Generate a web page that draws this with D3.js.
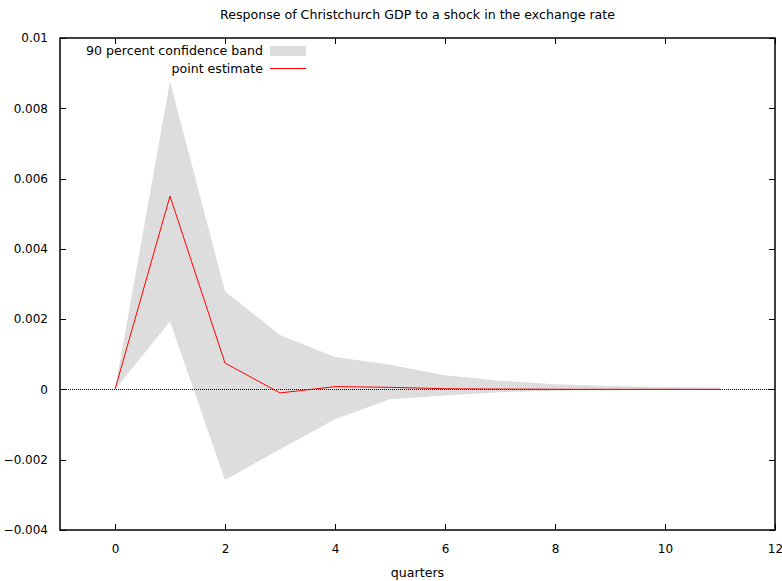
<!DOCTYPE html>
<html>
<head>
<meta charset="utf-8">
<script src="https://cdn.jsdelivr.net/npm/d3@7"></script>
<style>
  body { margin: 0; background: #fff; }
  text { font-family: 'DejaVu Sans', sans-serif; font-size: 12.6px; fill: #000; }
</style>
</head>
<body>
<script>
// quarters after the shock
var quarters = [0, 1, 2, 3, 4, 5, 6, 7, 8, 9, 10, 11]
// point estimate of the response
var pointEstimate = [0, 0.0055, 0.00075, -0.0001, 0.00008, 0.00006, 0.00002, 0.00001, 0.000005, 0.000003, 0.000002, 0.000001]
// 90 percent band, upper and lower edges
var bandUpper = [0, 0.00876, 0.00279, 0.00155, 0.00092, 0.0007, 0.0004, 0.00025, 0.00015, 0.0001, 0.00007, 0.00005]
var bandLower = [0, 0.00193, -0.00258, -0.0017, -0.00085, -0.00028, -0.00017, -0.00008, -0.00004, -0.00002, -0.00001, -0.00001]
var xTicks = [0, 2, 4, 6, 8, 10, 12]
var yTicks = [-0.004, -0.002, 0, 0.002, 0.004, 0.006, 0.008, 0.01]

var W = 782
var H = 581
var margin = { top: 38, right: 7, bottom: 51, left: 60 }
var width = W - margin.left - margin.right
var height = H - margin.top - margin.bottom

var svg = d3.select('body').append('svg')
  .attr('width', W)
  .attr('height', H)

var g = svg.append('g')
  .attr('transform', 'translate(' + margin.left + ',' + margin.top + ')')

var x = d3.scaleLinear().domain([-1, 12]).range([0, width])
var y = d3.scaleLinear().domain([-0.004, 0.01]).range([height, 0])

var rows = quarters.map(function (q, i) {
  return { q: q, est: pointEstimate[i], lo: bandLower[i], hi: bandUpper[i] }
})

// confidence band
var area = d3.area()
  .x(function (d) { return x(d.q) })
  .y0(function (d) { return y(d.lo) })
  .y1(function (d) { return y(d.hi) })

g.append('path')
  .datum(rows)
  .attr('d', area)
  .attr('fill', '#dddddd')

// zero line, dotted
g.append('line')
  .attr('x1', 0).attr('x2', width)
  .attr('y1', y(0)).attr('y2', y(0))
  .attr('stroke', '#000')
  .attr('stroke-width', 1)
  .attr('stroke-dasharray', '1,1')
  .attr('shape-rendering', 'crispEdges')

// point estimate
var line = d3.line()
  .x(function (d) { return x(d.q) })
  .y(function (d) { return y(d.est) })

g.append('path')
  .datum(rows)
  .attr('d', line)
  .attr('fill', 'none')
  .attr('stroke', '#ff0000')
  .attr('stroke-width', 1)

// axes, gnuplot style with inward ticks on all sides
var tickLen = 6
var xAxis = d3.axisBottom(x).tickValues(xTicks).tickSize(-tickLen).tickPadding(tickLen + 8).tickFormat(d3.format('d'))
var yAxis = d3.axisLeft(y).tickValues(yTicks).tickSize(-tickLen).tickPadding(tickLen + 6)
  .tickFormat(function (d) { return Math.abs(d) < 1e-12 ? '0' : d3.format('')(+d.toFixed(3)) })

var gx = g.append('g').attr('transform', 'translate(0,' + height + ')').call(xAxis)
var gy = g.append('g').call(yAxis)
var gx2 = g.append('g').call(d3.axisTop(x).tickValues(xTicks).tickSize(-tickLen).tickFormat(''))
var gy2 = g.append('g').attr('transform', 'translate(' + width + ',0)')
  .call(d3.axisRight(y).tickValues(yTicks).tickSize(-tickLen).tickFormat(''))

;[gx, gy, gx2, gy2].forEach(function (a) {
  a.select('.domain').remove()
  a.selectAll('line').attr('stroke', '#000').attr('shape-rendering', 'crispEdges')
  a.selectAll('text').style('font-family', "'DejaVu Sans', sans-serif").style('font-size', '12px').attr('fill', '#000')
})

// frame
g.append('rect')
  .attr('x', 0).attr('y', 0)
  .attr('width', width).attr('height', height)
  .attr('fill', 'none')
  .attr('stroke', '#000')
  .attr('stroke-width', 1.5)

// legend
var legend = g.append('g').attr('transform', 'translate(' + (263 - margin.left) + ',0)')
legend.append('text').attr('x', 0).attr('y', 17).attr('text-anchor', 'end').text('90 percent confidence band')
legend.append('rect').attr('x', 7).attr('y', 8).attr('width', 36).attr('height', 10).attr('fill', '#dddddd')
legend.append('text').attr('x', 0).attr('y', 35).attr('text-anchor', 'end').text('point estimate')
legend.append('line').attr('x1', 7).attr('x2', 43).attr('y1', 30.5).attr('y2', 30.5).attr('stroke', '#ff0000')

// title and axis label
svg.append('text')
  .attr('x', margin.left + width / 2)
  .attr('y', 19)
  .attr('text-anchor', 'middle')
  .text('Response of Christchurch GDP to a shock in the exchange rate')

svg.append('text')
  .attr('x', margin.left + width / 2)
  .attr('y', 577)
  .attr('text-anchor', 'middle')
  .text('quarters')
</script>
</body>
</html>
